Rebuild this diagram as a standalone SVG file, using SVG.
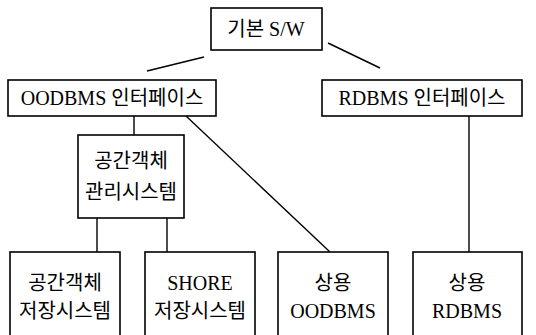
<svg xmlns="http://www.w3.org/2000/svg" width="536" height="335" viewBox="0 0 536 335">
<style>
.box{fill:#fff;stroke:#000;stroke-width:1.6}
.t{font-family:"Liberation Serif","Noto Sans CJK KR",serif;font-size:20px;fill:#000;text-anchor:middle}
.c{stroke:#000;stroke-width:1.4;fill:none}
</style>
<rect width="536" height="335" fill="#fff"/>
<g id="connectors">
<line class="c" x1="204" y1="57" x2="147" y2="71"/>
<line class="c" x1="328" y1="43" x2="380" y2="68"/>
<line class="c" x1="134" y1="116" x2="134" y2="135"/>
<line class="c" x1="97" y1="218" x2="97" y2="252"/>
<line class="c" x1="167" y1="218" x2="167" y2="252"/>
<line class="c" x1="186" y1="116" x2="330" y2="252"/>
<line class="c" x1="469" y1="116" x2="469" y2="252"/>
</g>
<g id="n-base"><rect class="box" x="211" y="8" width="111" height="42"/><text class="t" x="266" y="36">기본 S/W</text></g>
<g id="n-oodbms-if"><rect class="box" x="8" y="80" width="208" height="36"/><text class="t" x="112" y="105">OODBMS 인터페이스</text></g>
<g id="n-rdbms-if"><rect class="box" x="322" y="80" width="200" height="36"/><text class="t" x="422" y="105">RDBMS 인터페이스</text></g>
<g id="n-mgr"><rect class="box" x="78" y="135" width="106" height="83"/><text class="t" x="131" y="168">공간객체</text><text class="t" x="131" y="199">관리시스템</text></g>
<g id="n-store1"><rect class="box" x="10" y="252" width="110" height="90"/><text class="t" x="65" y="290">공간객체</text><text class="t" x="65" y="318">저장시스템</text></g>
<g id="n-shore"><rect class="box" x="145" y="252" width="110" height="90"/><text class="t" x="200" y="290">SHORE</text><text class="t" x="200" y="318">저장시스템</text></g>
<g id="n-comm-oo"><rect class="box" x="278" y="252" width="110" height="90"/><text class="t" x="333" y="290">상용</text><text class="t" x="333" y="318">OODBMS</text></g>
<g id="n-comm-r"><rect class="box" x="413" y="252" width="109" height="90"/><text class="t" x="467" y="290">상용</text><text class="t" x="467" y="318">RDBMS</text></g>
</svg>
